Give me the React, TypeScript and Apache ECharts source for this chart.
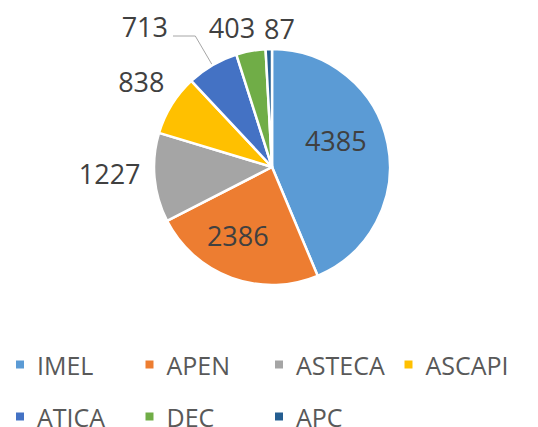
import React, { useEffect, useRef } from "react";
import * as echarts from "echarts";

const categories = ["IMEL", "APEN", "ASTECA", "ASCAPI", "ATICA", "DEC", "APC"];
const values = [4385, 2386, 1227, 838, 713, 403, 87];
const colors = ["#5B9BD5", "#ED7D31", "#A5A5A5", "#FFC000", "#4472C4", "#70AD47", "#255E91"];

// label nudges (style only)
const nudgeX = [3, -13, 1, 5.5, 0, 7, 26.5];
const nudgeY = [-14.5, 10.6, -6, -15.4, 0, -8.2, -6];

const FONT = "'Open Sans', 'Noto Sans', sans-serif";

export default function App() {
  const ref = useRef<HTMLDivElement>(null);
  useEffect(() => {
    if (!ref.current) return;
    const chart = echarts.init(ref.current, undefined, { renderer: "svg" });
    const data = categories.map((name, i) => {
      const item: any = { name, value: values[i], itemStyle: { color: colors[i] } };
      if (i < 2) {
        item.label = { position: "inside" };
      }
      if (i === 4) {
        item.label = { distanceToLabelLine: 5, formatter: "{c}\n", lineHeight: 19 };
        item.labelLine = { show: true, length: 33.8, length2: 22.3 };
      }
      return item;
    });
    const legendBase = {
      left: 14,
      width: 600,
      padding: 0,
      orient: "horizontal",
      icon: "rect",
      itemWidth: 10,
      itemHeight: 10,
      itemGap: 0,
      textStyle: {
        fontFamily: FONT,
        fontSize: 25,
        color: "#595959",
        width: 106.5,
        padding: [0, 0, 0, 7],
        lineHeight: 20,
      },
      selectedMode: false,
    };
    chart.setOption({
      animation: false,
      backgroundColor: "#ffffff",
      legend: [
        { ...legendBase, data: categories.slice(0, 4), top: 352 },
        { ...legendBase, data: categories.slice(4), top: 404 },
      ],
      series: [
        {
          type: "pie",
          center: [272, 167],
          radius: 118,
          startAngle: 90,
          clockwise: true,
          avoidLabelOverlap: false,
          itemStyle: { borderColor: "#ffffff", borderWidth: 2.5 },
          label: {
            show: true,
            position: "outside",
            formatter: "{c}",
            fontFamily: FONT,
            fontSize: 27,
            color: "#404040",
            distanceToLabelLine: 0,
          },
          labelLine: {
            show: false,
            length: 15,
            length2: 0,
            lineStyle: { color: "#A6A6A6", width: 1 },
          },
          labelLayout: (params: any) => {
            const i = params.dataIndex;
            if (i === 4) return {};
            return { dx: nudgeX[i], dy: nudgeY[i] };
          },
          emphasis: { disabled: true },
          data,
        },
      ],
    });
    return () => chart.dispose();
  }, []);
  return (
    <div
      ref={ref}
      style={{ position: "absolute", left: 0, top: 0, width: 538, height: 427 }}
    />
  );
}
